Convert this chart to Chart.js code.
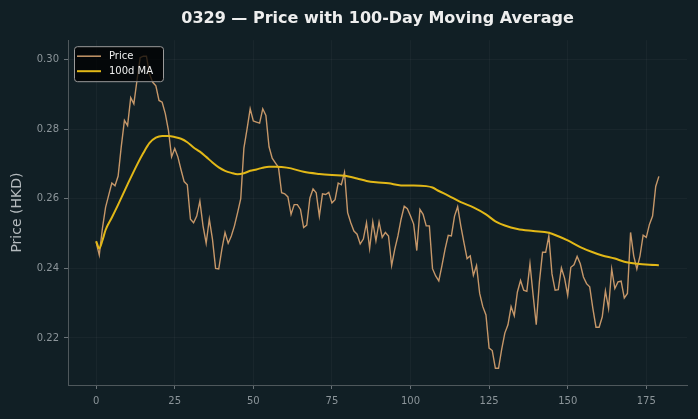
<!DOCTYPE html>
<html>
<head>
<meta charset="utf-8">
<script src="https://cdn.jsdelivr.net/npm/chart.js@4"></script>
<style>
  html, body { margin: 0; padding: 0; background: #111f25; }
  canvas { display: block; }
</style>
</head>
<body>
<canvas id="price-chart" width="698" height="419"></canvas>
<script>
// daily close prices, index = trading day
const prices = [
  0.2475, 0.2438, 0.2515, 0.2575, 0.2610, 0.2645, 0.2637, 0.2665, 0.2750, 0.2825,
  0.2810, 0.2890, 0.2872, 0.2940, 0.3005, 0.3009, 0.3009, 0.2957, 0.2934, 0.2924,
  0.2882, 0.2877, 0.2844, 0.2796, 0.2720, 0.2744, 0.2720, 0.2683, 0.2649, 0.2640,
  0.2541, 0.2531, 0.2550, 0.2593, 0.2522, 0.2472, 0.2541, 0.2484, 0.2400, 0.2398,
  0.2455, 0.2503, 0.2472, 0.2493, 0.2522, 0.2560, 0.2600, 0.2745, 0.2800, 0.2858,
  0.2823, 0.2820, 0.2817, 0.2858, 0.2839, 0.2749, 0.2716, 0.2703, 0.2690, 0.2617,
  0.2614, 0.2605, 0.2555, 0.2583, 0.2583, 0.2569, 0.2517, 0.2524, 0.2602, 0.2628,
  0.2617, 0.2550, 0.2614, 0.2612, 0.2618, 0.2588, 0.2597, 0.2645, 0.2640, 0.2675,
  0.2560, 0.2531, 0.2507, 0.2498, 0.2470, 0.2484, 0.2531, 0.2457, 0.2533, 0.2479,
  0.2533, 0.2489, 0.2503, 0.2493, 0.2408, 0.2455, 0.2493, 0.2541, 0.2578, 0.2571,
  0.2550, 0.2527, 0.2451, 0.2569, 0.2555, 0.2522, 0.2522, 0.2399, 0.2378, 0.2364,
  0.2408, 0.2455, 0.2495, 0.2493, 0.2550, 0.2577, 0.2522, 0.2474, 0.2428, 0.2436,
  0.2380, 0.2408, 0.2328, 0.2290, 0.2266, 0.2171, 0.2164, 0.2113, 0.2113, 0.2167,
  0.2214, 0.2238, 0.2290, 0.2264, 0.2332, 0.2365, 0.2337, 0.2334, 0.2413, 0.2323,
  0.2238, 0.2361, 0.2446, 0.2446, 0.2493, 0.2384, 0.2337, 0.2339, 0.2401, 0.2372,
  0.2323, 0.2403, 0.2410, 0.2434, 0.2413, 0.2375, 0.2356, 0.2347, 0.2285, 0.2231,
  0.2231, 0.2261, 0.2335, 0.2285, 0.2398, 0.2342, 0.2361, 0.2363, 0.2315, 0.2328,
  0.2503, 0.2436, 0.2398, 0.2436, 0.2495, 0.2489, 0.2526, 0.2550, 0.2635, 0.2664
];

// 100-day moving average, read at a handful of days
const maDays = [0, 1, 2, 3, 5, 7, 10, 13, 15, 17, 19, 21, 23, 25, 27, 29, 31, 33, 35, 37,
  39, 41, 43, 45, 47, 49, 51, 53, 55, 57, 59, 62, 66, 71, 75, 79, 83, 86, 89, 93,
  97, 101, 105, 107, 109, 112, 116, 120, 124, 127, 130, 134, 139, 144, 147, 150, 154, 158, 161, 165,
  168, 172, 176, 179];
const maValues = [0.2478, 0.2457, 0.2480, 0.2510, 0.2546, 0.2583, 0.2641, 0.2697, 0.2731, 0.2760,
  0.2775, 0.2780, 0.2780, 0.2777, 0.2772, 0.2762, 0.2747, 0.2735, 0.2720, 0.2704,
  0.2690, 0.2680, 0.2674, 0.2670, 0.2673, 0.2680, 0.2684, 0.2689, 0.2692, 0.2692,
  0.2691, 0.2687, 0.2677, 0.2671, 0.2668, 0.2666, 0.2658, 0.2651, 0.2647, 0.2644,
  0.2638, 0.2638, 0.2636, 0.2632, 0.2622, 0.2609, 0.2590, 0.2575, 0.2555, 0.2535,
  0.2523, 0.2513, 0.2507, 0.2502, 0.2492, 0.2480, 0.2461, 0.2446, 0.2437, 0.2428,
  0.2419, 0.2413, 0.2410, 0.2409];

const xTicks = [0, 25, 50, 75, 100, 125, 150, 175];
const yTicks = [0.22, 0.24, 0.26, 0.28, 0.30];

const priceColor = '#c69769';
const maColor = '#e2b817';
const tickColor = '#8c959a';

// legend drawn inside the plot, top left, like the original
const insideLegend = {
  id: 'insideLegend',
  afterDatasetsDraw(chart) {
    const ctx = chart.ctx;
    const x = chart.chartArea.left + 6, y = chart.chartArea.top + 6;
    const w = 89, h = 35;
    ctx.save();
    ctx.beginPath();
    ctx.roundRect(x + 0.5, y + 0.5, w, h, 3);
    ctx.fillStyle = 'rgba(0,0,0,0.75)';
    ctx.fill();
    ctx.strokeStyle = '#9a9a9a';
    ctx.lineWidth = 1;
    ctx.stroke();
    const items = [
      { label: 'Price', color: priceColor, width: 1.5 },
      { label: '100d MA', color: maColor, width: 2 },
    ];
    ctx.font = '10px "DejaVu Sans"';
    ctx.textBaseline = 'middle';
    items.forEach((it, i) => {
      const ly = y + 10 + i * 15;
      ctx.beginPath();
      ctx.moveTo(x + 3, ly);
      ctx.lineTo(x + 27, ly);
      ctx.strokeStyle = it.color;
      ctx.lineWidth = it.width;
      ctx.stroke();
      ctx.fillStyle = '#eeeeee';
      ctx.fillText(it.label, x + 35, ly);
    });
    ctx.restore();
  }
};

const ctx = document.getElementById('price-chart').getContext('2d');
new Chart(ctx, {
  type: 'line',
  data: {
    datasets: [
      {
        label: 'Price',
        data: prices.map((p, i) => ({ x: i, y: p })),
        borderColor: priceColor,
        borderWidth: 1.4,
        pointRadius: 0,
        tension: 0,
        order: 1,
      },
      {
        label: '100d MA',
        data: maDays.map((d, i) => ({ x: d, y: maValues[i] })),
        borderColor: maColor,
        borderWidth: 2,
        pointRadius: 0,
        cubicInterpolationMode: 'monotone',
        order: 0,
      },
    ],
  },
  options: {
    responsive: false,
    animation: false,
    layout: { padding: { right: 11, top: 0 } },
    plugins: {
      legend: { display: false },
      tooltip: { enabled: false },
      title: {
        display: true,
        fullSize: false,
        text: '0329 — Price with 100-Day Moving Average',
        color: '#eeeeee',
        font: { family: 'DejaVu Sans', size: 16, weight: 'bold' },
        padding: { top: 9, bottom: 12 },
      },
    },
    scales: {
      x: {
        type: 'linear',
        min: -8.95,
        max: 187.95,
        afterBuildTicks: (axis) => { axis.ticks = xTicks.map(v => ({ value: v })); },
        afterFit: (axis) => { axis.height = 34; },
        ticks: {
          color: tickColor,
          font: { family: 'DejaVu Sans', size: 10 },
          padding: 6,
          maxRotation: 0,
        },
        grid: {
          color: 'rgba(255,255,255,0.035)',
          tickColor: '#6a7378',
          tickLength: 4,
        },
        border: { color: '#4f585c', width: 1 },
      },
      y: {
        min: 0.2065,
        max: 0.3055,
        afterBuildTicks: (axis) => { axis.ticks = yTicks.map(v => ({ value: v })); },
        afterFit: (axis) => { axis.width = 68; },
        ticks: {
          color: tickColor,
          font: { family: 'DejaVu Sans', size: 10 },
          padding: 5,
          callback: (v) => v.toFixed(2),
        },
        grid: {
          color: 'rgba(255,255,255,0.035)',
          tickColor: '#6a7378',
          tickLength: 4,
        },
        border: { color: '#4f585c', width: 1 },
        title: {
          display: true,
          text: 'Price (HKD)',
          color: '#b4babd',
          font: { family: 'DejaVu Sans', size: 14 },
          padding: { top: 9, bottom: 4 },
        },
      },
    },
  },
  plugins: [insideLegend],
});
</script>
</body>
</html>
